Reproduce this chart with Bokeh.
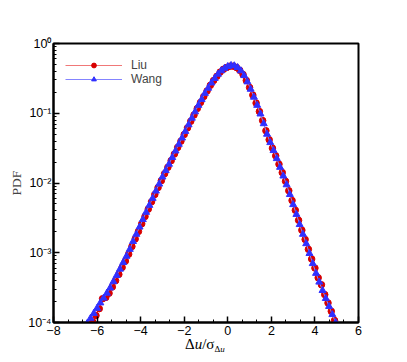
from bokeh.plotting import figure
from bokeh.models import Legend, LegendItem, Div, CustomJSTickFormatter, SingleIntervalTicker, LogTicker
from bokeh.layouts import column
from bokeh.embed import file_html
from bokeh.resources import INLINE

# ---- data ----
wang_x = [-6.45, -6.30, -6.15, -6.00, -5.85, -5.70, -5.55, -5.40, -5.25, -5.10,
          -4.95, -4.80, -4.65, -4.50, -4.35, -4.20, -4.05, -3.90, -3.75, -3.60,
          -3.45, -3.30, -3.15, -3.00, -2.85, -2.70, -2.55, -2.40, -2.25, -2.10,
          -1.95, -1.80, -1.65, -1.50, -1.35, -1.20, -1.05, -0.90, -0.75, -0.60,
          -0.45, -0.30, -0.15, 0.00, 0.15, 0.30, 0.45, 0.60, 0.75, 0.90,
          1.05, 1.20, 1.35, 1.50, 1.65, 1.80, 1.95, 2.10, 2.25, 2.40,
          2.55, 2.70, 2.85, 3.00, 3.15, 3.30, 3.45, 3.60, 3.75, 3.90,
          4.05, 4.20, 4.35, 4.50, 4.65, 4.80, 4.95]
wang_pdf = [9.77e-5, 1.15e-4, 1.35e-4, 1.60e-4, 1.91e-4, 2.24e-4, 2.63e-4, 3.13e-4, 3.85e-4, 4.73e-4,
            5.82e-4, 7.24e-4, 8.91e-4, 1.12e-3, 1.45e-3, 1.84e-3, 2.34e-3, 2.99e-3, 3.80e-3, 4.79e-3,
            6.03e-3, 7.67e-3, 9.66e-3, 1.22e-2, 1.51e-2, 1.86e-2, 2.32e-2, 2.88e-2, 3.59e-2, 4.42e-2,
            5.50e-2, 6.84e-2, 8.51e-2, 0.105, 0.130, 0.158, 0.193, 0.229, 0.272, 0.316,
            0.363, 0.407, 0.442, 0.468, 0.484, 0.479, 0.452, 0.407, 0.347, 0.282,
            0.221, 0.170, 0.130, 9.77e-2, 7.08e-2, 5.01e-2, 3.80e-2, 2.92e-2, 2.24e-2, 1.68e-2,
            1.26e-2, 9.44e-3, 6.84e-3, 4.90e-3, 3.55e-3, 2.54e-3, 1.84e-3, 1.35e-3, 9.77e-4, 7.00e-4,
            5.07e-4, 3.80e-4, 2.88e-4, 2.21e-4, 1.70e-4, 1.30e-4, 1.00e-4]

liu_x = [-6.20, -6.05, -5.90, -5.75, -5.60, -5.45, -5.30, -5.15, -5.00, -4.85,
         -4.70, -4.55, -4.40, -4.25, -4.10, -3.95, -3.80, -3.65, -3.50, -3.35,
         -3.20, -3.05, -2.90, -2.75, -2.60, -2.45, -2.30, -2.15, -2.00, -1.85,
         -1.70, -1.55, -1.40, -1.25, -1.10, -0.95, -0.80, -0.65, -0.50, -0.35,
         -0.20, -0.05, 0.10, 0.25, 0.40, 0.55, 0.70, 0.85, 1.00, 1.15,
         1.30, 1.45, 1.60, 1.75, 1.90, 2.05, 2.20, 2.35, 2.50, 2.65,
         2.80, 2.95, 3.10, 3.25, 3.40, 3.55, 3.70, 3.85, 4.00, 4.15,
         4.30, 4.45, 4.60, 4.75, 4.90]
liu_pdf = [1.02e-4, 1.26e-4, 1.58e-4, 2.19e-4, 2.29e-4, 2.63e-4, 3.24e-4, 3.98e-4, 4.90e-4, 6.17e-4,
           7.59e-4, 9.55e-4, 1.23e-3, 1.58e-3, 2.02e-3, 2.60e-3, 3.31e-3, 4.22e-3, 5.37e-3, 6.84e-3,
           8.61e-3, 1.08e-2, 1.36e-2, 1.68e-2, 2.09e-2, 2.60e-2, 3.24e-2, 3.98e-2, 4.95e-2, 6.17e-2,
           7.67e-2, 9.44e-2, 0.117, 0.143, 0.174, 0.209, 0.251, 0.295, 0.339, 0.389,
           0.427, 0.452, 0.473, 0.473, 0.452, 0.412, 0.359, 0.295, 0.234, 0.182,
           0.140, 0.106, 7.85e-2, 5.62e-2, 4.17e-2, 3.16e-2, 2.45e-2, 1.86e-2, 1.41e-2, 1.06e-2,
           7.76e-3, 5.62e-3, 4.07e-3, 2.92e-3, 2.11e-3, 1.55e-3, 1.12e-3, 8.13e-4, 6.03e-4, 4.37e-4,
           3.47e-4, 2.51e-4, 1.91e-4, 1.45e-4, 1.07e-4]

series_names = ["Liu", "Wang"]
y_tick_values = [1e-4, 1e-3, 1e-2, 1e-1, 1.0]
y_tick_labels = ["10\u207b\u2074", "10\u207b\u00b3", "10\u207b\u00b2", "10\u207b\u00b9", "10\u2070"]
x_label_html = ("\u0394<i>u</i>/\u03c3"
                "<span style=\"font-size:9px;position:relative;top:3px\">\u0394<i>u</i></span>")
y_label = "PDF"

# ---- figure ----
p = figure(frame_width=305, frame_height=279, x_range=(-8, 6), y_range=(1e-4, 1),
           y_axis_type="log", output_backend="svg", toolbar_location=None,
           min_border_left=53, min_border_right=42, min_border_top=43, min_border_bottom=15)
p.xgrid.visible = False
p.ygrid.visible = False
p.outline_line_color = "black"
p.outline_line_width = 2
p.background_fill_color = "white"
p.border_fill_color = "white"

liu_line = p.line(liu_x, liu_pdf, line_color="#f07878", line_width=1)
liu_pts = p.scatter(liu_x, liu_pdf, marker="circle", size=6.5,
                    fill_color="#d80000", line_color="#d80000")
wang_line = p.line(wang_x, wang_pdf, line_color="#8484ff", line_width=1)
wang_pts = p.scatter(wang_x, wang_pdf, marker="triangle", size=7,
                     fill_color="#3030ff", line_color="#3030ff")

# axes
p.xaxis.ticker = SingleIntervalTicker(interval=2, num_minor_ticks=3)
p.yaxis.ticker = LogTicker(desired_num_ticks=5, num_minor_ticks=10)
p.yaxis.formatter = CustomJSTickFormatter(
    args=dict(vals=y_tick_values, labels=y_tick_labels),
    code="""
    let best = 0;
    for (let i = 0; i < vals.length; i++) {
      if (Math.abs(Math.log10(vals[i]) - Math.log10(tick)) < Math.abs(Math.log10(vals[best]) - Math.log10(tick))) best = i;
    }
    return labels[best];
    """)
for ax in (p.xaxis[0], p.yaxis[0]):
    ax.major_tick_in = 6
    ax.major_tick_out = 0
    ax.minor_tick_in = 3
    ax.minor_tick_out = 0
    ax.major_tick_line_width = 1.5
    ax.major_tick_line_color = "black"
    ax.minor_tick_line_color = "black"
    ax.axis_line_width = 2
    ax.axis_line_color = "black"
    ax.major_label_text_font = "Liberation Sans"
    ax.major_label_text_font_size = "12.5px"
    ax.major_label_text_color = "black"
p.xaxis.major_label_standoff = 3
p.yaxis.major_label_standoff = 2
p.yaxis.axis_label = y_label
p.yaxis.axis_label_text_font = "Liberation Serif"
p.yaxis.axis_label_text_font_style = "normal"
p.yaxis.axis_label_text_font_size = "13.5px"
p.yaxis.axis_label_standoff = 1

legend = Legend(items=[LegendItem(label=series_names[0], renderers=[liu_line, liu_pts]),
                       LegendItem(label=series_names[1], renderers=[wang_line, wang_pts])],
                location=(12, 236), glyph_width=57, glyph_height=12, label_height=12,
                label_standoff=9, spacing=0, padding=0, margin=0,
                border_line_alpha=0, background_fill_alpha=0,
                label_text_font="Liberation Sans", label_text_font_size="12px")
p.add_layout(legend)

xlab = Div(text=("<div style=\"font-family:'Liberation Serif';font-size:15px;line-height:15px;"
                 "padding-left:185px;white-space:nowrap;color:black;margin-top:-2px\">"
                 + x_label_html + "</div>"),
           width=400, height=18, margin=(0, 0, 0, 0))

layout = column(p, xlab, spacing=0)
open("out.html", "w").write(file_html(layout, INLINE))
